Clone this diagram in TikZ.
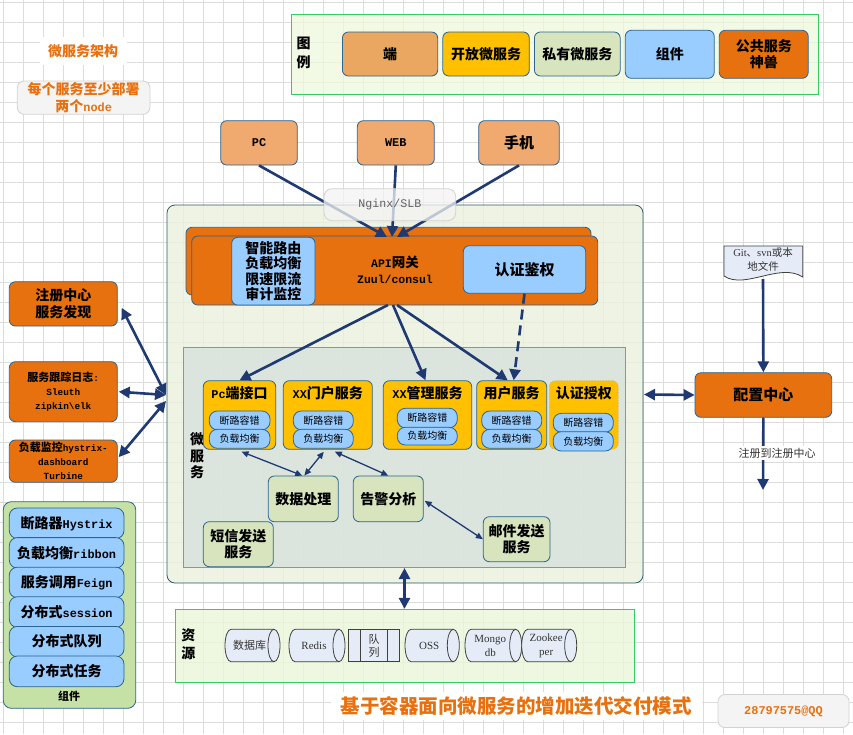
\documentclass[tikz,border=0pt]{standalone}
\usepackage{fontspec}
\setmainfont{Noto Sans CJK SC}
\newfontfamily\mono[Scale=0.85]{Liberation Mono}
\newfontfamily\serifl{Liberation Serif}
\usetikzlibrary{arrows.meta,calc}
\definecolor{orng}{HTML}{E8710F}
\definecolor{tan}{HTML}{F0A96E}
\definecolor{tanL}{HTML}{E9A762}
\definecolor{yel}{HTML}{FFC000}
\definecolor{lblue}{HTML}{99CCFF}
\definecolor{pgreen}{HTML}{D7E4BD}
\definecolor{bord}{HTML}{2A6491}
\definecolor{navy}{HTML}{1F3A73}
\definecolor{gridc}{HTML}{DCDCDC}
\definecolor{legfill}{HTML}{EEF8DD}
\definecolor{legbord}{HTML}{33CC66}
\definecolor{contfill}{HTML}{EAF0DE}
\definecolor{contbord}{HTML}{2E5E6E}
\definecolor{msfill}{HTML}{D8E3DC}
\definecolor{compfill}{HTML}{C5E1A5}
\definecolor{resfill}{HTML}{EAF7DA}
\definecolor{drumfill}{HTML}{E6ECF7}
\definecolor{notefill}{HTML}{F4F4F4}
\definecolor{notebord}{HTML}{D2D2D2}
\definecolor{txtg}{HTML}{333333}
\tikzset{
 base/.style={draw=bord, line width=0.8pt, rounded corners=6pt, align=center, inner sep=0pt, font=\bfseries\fontsize{14}{16.5}\selectfont},
 orangebox/.style={base, fill=orng},
 tanbox/.style={base, fill=tan},
 legtan/.style={base, fill=tanL},
 yelbox/.style={base, fill=yel},
 bluebox/.style={base, fill=lblue},
 greenbox/.style={base, fill=pgreen},
 pill/.style={base, fill=lblue, rounded corners=8pt, font=\fontsize{10}{12}\selectfont},
 authbox/.style={base, fill=yel, draw=gray!60, dotted},
 citem/.style={base, fill=lblue, rounded corners=8pt},
 notebox/.style={base, fill=notefill, draw=notebord, text=orng, rounded corners=7pt},
 legbox/.style={fill=legfill, fill opacity=0.75, draw=legbord, line width=0.9pt, inner sep=0pt},
 contbox/.style={fill=contfill, fill opacity=0.8, draw=contbord, line width=0.8pt, rounded corners=8pt, inner sep=0pt},
 msbox/.style={fill=msfill, fill opacity=0.85, draw=legbord, line width=0.9pt, inner sep=0pt},
 compbox/.style={fill=compfill, draw=bord, line width=0.8pt, rounded corners=8pt, inner sep=0pt},
 resbox/.style={fill=resfill, fill opacity=0.8, draw=legbord, line width=0.9pt, inner sep=0pt},
 nginxbox/.style={fill=notefill, fill opacity=0.75, draw=notebord, line width=0.8pt, rounded corners=8pt, inner sep=0pt, text=txtg, font=\fontsize{13.7}{16}\selectfont},
 lbl/.style={align=center, inner sep=0pt, font=\bfseries\fontsize{14}{16.5}\selectfont},
 drumst/.style={fill=drumfill, draw=black!75, line width=0.8pt},
 drumtext/.style={align=center, inner sep=0pt, text=txtg, font=\fontsize{11}{14}\selectfont},
 bigarrow/.style={navy, line width=2.6pt, -{Triangle[length=11pt,width=11pt]}},
 bigdarrow/.style={navy, line width=2.6pt, {Triangle[length=11pt,width=11pt]}-{Triangle[length=11pt,width=11pt]}},
 thinda/.style={navy, line width=1.3pt, {Triangle[length=7pt,width=6pt]}-{Triangle[length=7pt,width=6pt]}},
}
\newcommand\bx[7]{%
 \pgfmathsetmacro\bw{#4-#2}\pgfmathsetmacro\bh{#5-#3}%
 \pgfmathsetmacro\bcx{(#2+#4)/2}\pgfmathsetmacro\bcy{(#3+#5)/2}%
 \node[#6,minimum width=\bw pt,minimum height=\bh pt] (#1) at (\bcx,\bcy) {#7};}
\newcommand\resdrum[6]{%
 \pgfmathsetmacro\dxa{#2+6}\pgfmathsetmacro\dxb{#3-6}\pgfmathsetmacro\dry{(#5-#4)/2}%
 \pgfmathsetmacro\dcx{(#2+#3)/2-3}\pgfmathsetmacro\dcy{(#4+#5)/2}%
 \filldraw[drumst] (\dxa,#4) -- (\dxb,#4) arc[start angle=90,end angle=-90,x radius=6pt,y radius=\dry pt] -- (\dxa,#5) arc[start angle=270,end angle=90,x radius=6pt,y radius=\dry pt] -- cycle;
 \draw[drumst, fill=none] (\dxb,#4) arc[start angle=90,end angle=270,x radius=6pt,y radius=\dry pt];
 \node[drumtext] (#1) at (\dcx,\dcy) {#6};}
\begin{document}
\begin{tikzpicture}[x=1pt,y=-1pt]
\useasboundingbox (0,0) rectangle (853,734);
\fill[white] (0,0) rectangle (853,734);
\foreach \i in {3,23,...,843} \draw[gridc,line width=0.7pt] (\i,0) -- (\i,734);
\foreach \j in {2,22,...,722} \draw[gridc,line width=0.7pt] (0,\j) -- (853,\j);
% title and note
\node[fill=white, minimum width=87pt, minimum height=28pt, inner sep=0pt, text=orng, font=\bfseries\fontsize{14}{16}\selectfont] (title) at (83,51) {微服务架构};
\bx{note}{17.3}{81}{150}{114.3}{notebox}{每个服务至少部署\\两个{\mono node}}
% legend
\bx{legend}{291}{14}{818}{94}{legbox}{}
\node[lbl, font=\bfseries\fontsize{14}{18.6}\selectfont] (legt) at (303.5,53) {图\\例};
\bx{lgend}{342.4}{32}{437.7}{76}{legtan}{端}
\bx{lgopen}{442.8}{32}{529.3}{76}{yelbox}{开放微服务}
\bx{lgpriv}{534.4}{32}{620.2}{76}{greenbox}{私有微服务}
\bx{lgcomp}{625.3}{30.3}{714.2}{78.3}{bluebox}{组件}
\bx{lgpub}{719.3}{30.3}{808.2}{78.3}{orangebox}{公共服务\\神兽}
% clients
\bx{pc}{220.7}{120.7}{297.3}{165}{tanbox}{{\mono PC}}
\bx{web}{357.3}{120.7}{434.3}{165}{tanbox}{{\mono WEB}}
\bx{phone}{478.7}{120.7}{559.3}{165}{tanbox, font=\bfseries\fontsize{15}{17}\selectfont}{手机}
% main container
\bx{cont}{167}{205}{643}{583}{contbox}{}
\bx{ms}{183.3}{347.3}{625}{567}{msbox}{}
% gateway
\bx{gwb}{186}{227.3}{591}{295}{orangebox}{}
\bx{gwf}{191.7}{236}{597.7}{305}{orangebox}{}
\bx{route}{231.7}{237.3}{315}{305}{bluebox, font=\bfseries\fontsize{14}{15.6}\selectfont}{智能路由\\负载均衡\\限速限流\\审计监控}
\node[lbl, font=\bfseries\fontsize{13.5}{16}\selectfont] (api) at (395,270) {{\mono API}网关\\{\mono Zuul/consul}};
\bx{authg}{463.3}{245.7}{585.7}{293.3}{bluebox, font=\bfseries\fontsize{15}{17}\selectfont}{认证鉴权}
% client arrows
\coordinate (gin1) at (387,237);
\coordinate (gin2) at (392,237);
\coordinate (gin3) at (397,237);
\draw[bigarrow] (pc.south) -- (gin1);
\draw[bigarrow] (web.south) -- (gin2);
\draw[bigarrow] (phone.south) -- (gin3);
\bx{nginx}{324}{188.7}{455.7}{220.7}{nginxbox}{{\mono Nginx/SLB}}
% microservices
\node[lbl, font=\bfseries\fontsize{14}{16.5}\selectfont] (mslabel) at (197,456) {微\\服\\务};
\bx{svpc}{203.3}{380.7}{275.7}{449.3}{yelbox}{}
\bx{svportal}{283.3}{380.7}{372.3}{449.3}{yelbox}{}
\bx{svmgr}{383.3}{380.7}{471.7}{449.3}{yelbox}{}
\bx{svuser}{476.7}{380.7}{546.7}{449.3}{yelbox}{}
\bx{svauth}{549.3}{380.7}{618.3}{449.3}{authbox}{}
\node[lbl] (tpc) at (239.5,393.3) {{\mono Pc}端接口};
\node[lbl] (tportal) at (327.8,393.3) {{\mono XX}门户服务};
\node[lbl] (tmgr) at (427.5,393.3) {{\mono XX}管理服务};
\node[lbl] (tuser) at (511.7,393.3) {用户服务};
\node[lbl] (tauth) at (583.8,393.3) {认证授权};
\bx{p1a}{209.3}{411}{270}{429.8}{pill}{断路容错}
\bx{p1b}{209.3}{429.3}{270}{448.3}{pill}{负载均衡}
\bx{p2a}{293.3}{411}{353.3}{429.8}{pill}{断路容错}
\bx{p2b}{293.3}{429.3}{353.3}{448.3}{pill}{负载均衡}
\bx{p3a}{397.3}{408.3}{457.3}{427.8}{pill}{断路容错}
\bx{p3b}{397.3}{427.3}{457.3}{445}{pill}{负载均衡}
\bx{p4a}{481.7}{411}{541.7}{429.8}{pill}{断路容错}
\bx{p4b}{481.7}{429.3}{541.7}{448.3}{pill}{负载均衡}
\bx{p5a}{553.3}{413.3}{613.3}{432.2}{pill}{断路容错}
\bx{p5b}{553.3}{431.7}{613.3}{451}{pill}{负载均衡}
\bx{data}{268.3}{476}{338.3}{521.7}{greenbox}{数据处理}
\bx{alarm}{353.3}{476}{423.3}{521.7}{greenbox}{告警分析}
\bx{sms}{203.3}{521.7}{273.3}{566.7}{greenbox}{短信发送\\服务}
\bx{mail}{483.3}{516.7}{550}{561.7}{greenbox}{邮件发送\\服务}
% gateway to services
\coordinate (g1) at (388,305);
\coordinate (g2) at (393,305);
\coordinate (g3) at (397,305);
\draw[bigarrow] (g1) -- (svpc.north);
\draw[bigarrow] (g2) -- ($(svmgr.north)+(-2,0)$);
\draw[bigarrow] (g3) -- ($(svuser.north)+(-4,0)$);
\draw[bigarrow, dash pattern=on 10pt off 6pt] (authg.south) -- ($(svuser.north)+(2,0)$);
% thin arrows
\draw[thinda] ($(svpc.south)+(2,2)$) -- ($(data.north)+(-1,0)$);
\draw[thinda] ($(svportal.south)+(-4,2)$) -- ($(data.north)+(1,0)$);
\draw[thinda] ($(svportal.south)+(7,2)$) -- (alarm.north);
\draw[thinda] ($(alarm.east)+(1,2)$) -- (mail.west);
% left side
\bx{reg}{9.3}{281.7}{117.3}{326}{orangebox, font=\bfseries\fontsize{14}{16.7}\selectfont}{注册中心\\服务发现}
\bx{trace}{9.3}{361.7}{117.3}{421.7}{orangebox, font=\bfseries\fontsize{11}{14}\selectfont}{服务跟踪日志{\mono :}\\{\mono Sleuth}\\{\mono zipkin\textbackslash elk}}
\bx{mon}{9.3}{440}{117.3}{482.3}{orangebox, font=\bfseries\fontsize{11}{14}\selectfont}{负载监控{\mono hystrix-}\\{\mono dashboard}\\{\mono Turbine}}
\coordinate (hub) at (166,395);
\draw[bigdarrow] (hub) -- ($(reg.east)+(4,4)$);
\draw[bigdarrow] (hub) -- ($(trace.east)+(1,0)$);
\draw[bigdarrow] ($(hub)+(0,6)$) -- ($(mon.east)+(1,-4)$);
% components
\bx{comp}{3.3}{501.7}{135.7}{708.3}{compbox}{}
\bx{c1}{9.3}{508}{124}{538.5}{citem}{断路器{\mono Hystrix}}
\bx{c2}{9.3}{537.6}{124}{568.1}{citem}{负载均衡{\mono ribbon}}
\bx{c3}{9.3}{567.2}{124}{597.7}{citem}{服务调用{\mono Feign}}
\bx{c4}{9.3}{596.8}{124}{627.3}{citem}{分布式{\mono session}}
\bx{c5}{9.3}{626.4}{124}{656.9}{citem}{分布式队列}
\bx{c6}{9.3}{656}{124}{686.7}{citem}{分布式任务}
\node[lbl, font=\bfseries\fontsize{11}{13}\selectfont] (complabel) at (69,696) {组件};
% resources
\bx{res}{175}{609.3}{634}{682.7}{resbox}{}
\node[lbl, font=\bfseries\fontsize{14}{18}\selectfont] (reslabel) at (188.3,644) {资\\源};
\resdrum{db}{225}{280}{629.3}{661.7}{数据库}
\resdrum{redis}{289}{345}{629.3}{661.7}{\serifl Redis}
\filldraw[drumst] (348.3,629.3) rectangle (399.3,661.7);
\draw[drumst] (360.7,629.3) -- (360.7,661.7) (387.3,629.3) -- (387.3,661.7);
\node[drumtext, font=\fontsize{11}{13}\selectfont] (queue) at (374,645.5) {队\\列};
\resdrum{oss}{405}{459.3}{629.3}{661.7}{\serifl OSS}
\resdrum{mongo}{465}{521.7}{629.3}{661.7}{\serifl Mongo\\\serifl db}
\resdrum{zk}{521.7}{576.7}{629.3}{661.7}{\serifl Zookee\\\serifl per}
\coordinate (rtop) at (404.5,568);
\draw[bigdarrow] (rtop) -- (res.north);
% config
\bx{cfg}{695}{372.7}{831.7}{417.3}{orangebox, font=\bfseries\fontsize{15}{17}\selectfont}{配置中心}
\filldraw[drumst] (724,246) -- (802.7,246) -- (802.7,277) .. controls (780,262) and (745,290) .. (724,276) -- cycle;
\node[drumtext, font=\fontsize{10.5}{14}\selectfont] (doc) at (763,260) {{\serifl Git}、{\serifl svn}或本\\地文件};
\coordinate (docbot) at (763,279);
\draw[bigarrow] (docbot) -- (cfg.north);
\coordinate (contR) at (644,394.5);
\draw[bigdarrow] (contR) -- (cfg.west);
\coordinate (regout) at (763,490);
\draw[bigarrow] (cfg.south) -- (regout);
\node[fill=white, inner sep=1.5pt, text=txtg, font=\fontsize{11}{13}\selectfont] (reglbl) at (777,453) {注册到注册中心};
% bottom
\node[fill=white, inner xsep=10pt, inner ysep=5pt, text=orng, font=\bfseries\fontsize{19.5}{22}\selectfont] (btitle) at (516,706) {基于容器面向微服务的增加迭代交付模式};
\bx{qq}{718}{694.5}{849}{727.5}{notebox}{{\mono 28797575@QQ}}
\end{tikzpicture}
\end{document}
